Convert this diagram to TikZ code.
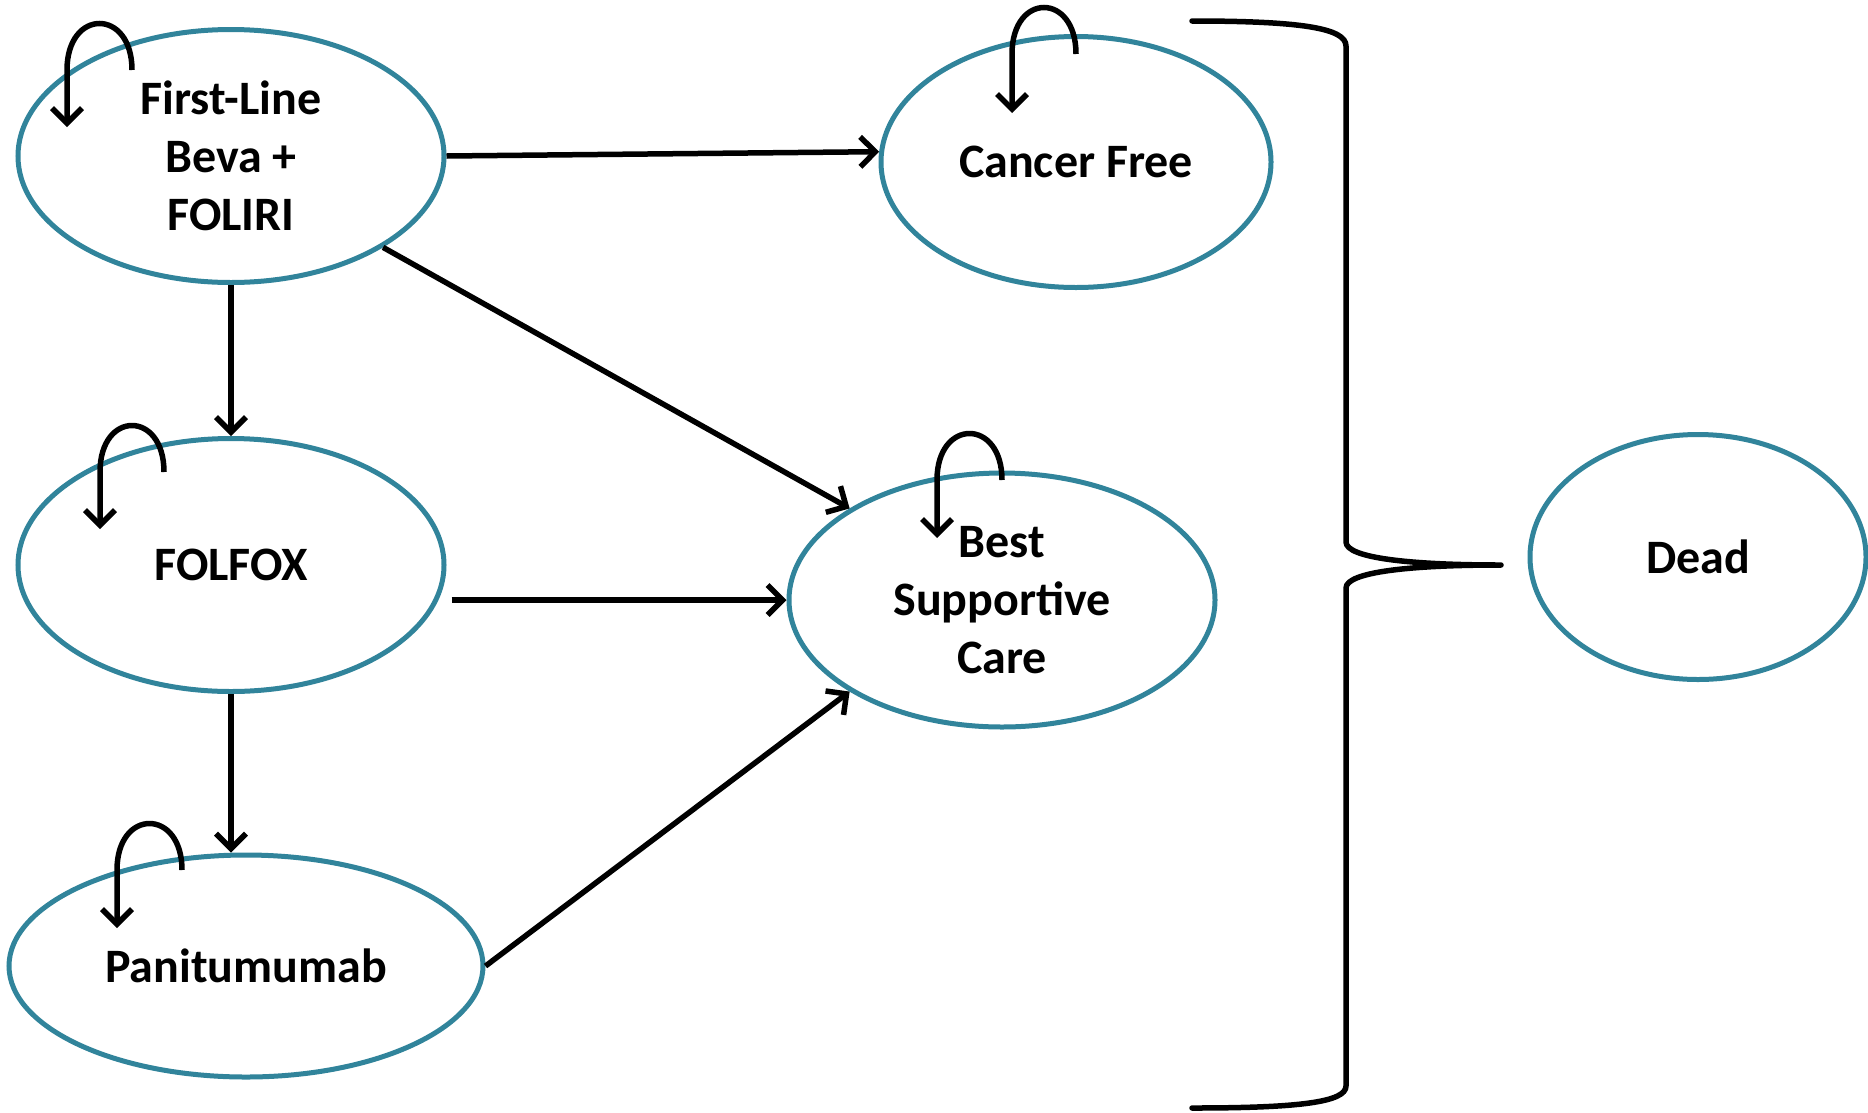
\documentclass[tikz,border=0pt]{standalone}
\usepackage{fontspec}
\setmainfont{Carlito}
\usetikzlibrary{arrows.meta,calc,shapes.geometric}
\definecolor{statering}{RGB}{49,132,155}

\begin{document}
\begin{tikzpicture}[x=1pt,y=-1pt,
  state/.style={ellipse, draw=statering, line width=5pt, fill=white,
    inner sep=0pt, align=center,
    font=\fontsize{48pt}{58pt}\selectfont\bfseries},
  trans/.style={draw=black, line width=5.5pt,
    -{Straight Barb[length=15pt,width=30pt,line width=5.5pt]}},
  selfloop/.style={trans},
  brace/.style={draw=black, line width=5.5pt, line join=round, line cap=round}]

\useasboundingbox (0,0) rectangle (1868,1112);

% health states
\node[state, minimum width=426pt, minimum height=253pt] (FL)   at (231,156)  {First-Line\\Beva +\\FOLIRI};
\node[state, minimum width=390pt, minimum height=251pt] (CF)   at (1076,162) {Cancer Free};
\node[state, minimum width=426pt, minimum height=253pt] (FF)   at (231,565)  {FOLFOX};
\node[state, minimum width=426pt, minimum height=254pt] (BSC)  at (1002,600) {Best\\Supportive\\Care};
\node[state, minimum width=474pt, minimum height=222pt] (PAN)  at (246,966)  {Panitumumab};
\node[state, minimum width=336pt, minimum height=245pt] (Dead) at (1698,557) {Dead};

% transitions between states
\draw[trans] (FL.east) -- (CF.177);
\draw[trans] (FL.south) -- (FF.north);
\draw[trans] (FL.-31) -- (BSC.149.5);
\draw[trans] ($(BSC.west -| FF.east)+(5,0)$) -- (BSC.west);
\draw[trans] (FF.south) -- (FF.south |- PAN.north);
\draw[trans] (PAN.east) -- (BSC.211);

% staying in the same state
\draw[selfloop] ($(FL.center)+(-99,-86)$)  .. controls +(0,-62) and +(0,-62) .. ++(-65,0) -- ++(0,57);
\draw[selfloop] ($(CF.center)+(0,-108)$)   .. controls +(0,-62) and +(0,-62) .. ++(-64,0) -- ++(0,59);
\draw[selfloop] ($(FF.center)+(-67,-93)$)  .. controls +(0,-62) and +(0,-62) .. ++(-64,0) -- ++(0,57);
\draw[selfloop] ($(BSC.center)+(0,-120)$)  .. controls +(0,-62) and +(0,-62) .. ++(-65,0) -- ++(0,58);
\draw[selfloop] ($(PAN.center)+(-64,-96)$) .. controls +(0,-62) and +(0,-62) .. ++(-65,0) -- ++(0,58);

% brace gathering all states towards Dead
\coordinate (tip) at (1501,565);
\draw[brace] (1192,21) .. controls (1300,21) and (1346,28) .. (1346,46)
  -- (1346,542) .. controls (1346,558) and (1410,565) .. (tip)
  .. controls (1410,565) and (1346,572) .. (1346,588)
  -- (1346,1086) .. controls (1346,1102) and (1300,1108) .. (1192,1108);

\end{tikzpicture}
\end{document}
